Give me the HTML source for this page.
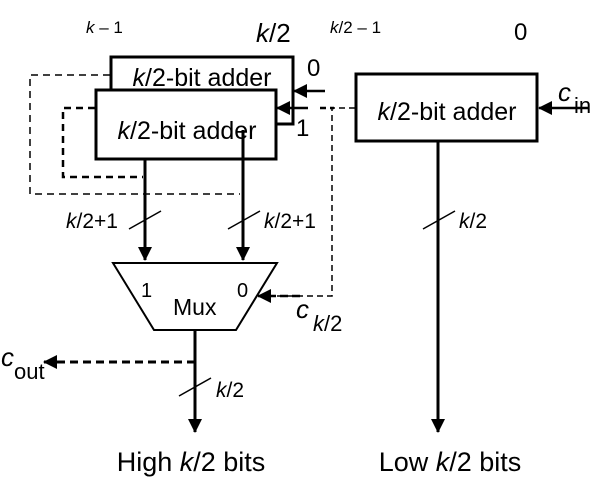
<!DOCTYPE html>
<html><head><meta charset="utf-8"><style>
html,body{margin:0;padding:0;background:#fff;}
svg{display:block;font-family:"Liberation Sans",Arial,sans-serif;}
</style></head><body>
<svg width="602" height="486" viewBox="0 0 602 486" xmlns="http://www.w3.org/2000/svg">
<defs>
<marker id="ab" markerWidth="14" markerHeight="14" refX="13" refY="7" orient="auto" markerUnits="userSpaceOnUse">
<path d="M0,0 L14,7 L0,14 z" fill="#000"/>
</marker>
</defs>
<g fill="none" stroke="#000">
<path d="M110,75 H30 V194 H240" stroke-width="1.5" stroke-dasharray="7,5"/>
<path d="M95,108 H63 V177 H143" stroke-width="2.5" stroke-dasharray="7,5"/>
<rect x="111" y="57" width="182" height="67" fill="#fff" stroke-width="3"/>
<rect x="96" y="90" width="180" height="69" fill="#fff" stroke-width="3"/>
<rect x="356" y="74" width="181" height="67" fill="#fff" stroke-width="3"/>
<line x1="325" y1="91" x2="294" y2="91" stroke-width="2.5" marker-end="url(#ab)"/>
<line x1="308" y1="108" x2="277" y2="108" stroke-width="2.5" marker-end="url(#ab)"/>
<line x1="589" y1="108" x2="539" y2="108" stroke-width="2.5" marker-end="url(#ab)"/>
<line x1="145" y1="159" x2="145" y2="260" stroke-width="3" marker-end="url(#ab)"/>
<line x1="243" y1="130" x2="243" y2="260" stroke-width="3" marker-end="url(#ab)"/>
<line x1="129" y1="229" x2="161" y2="211" stroke-width="1.5"/>
<line x1="228" y1="229" x2="260" y2="211" stroke-width="1.5"/>
<line x1="438" y1="141" x2="438" y2="432" stroke-width="3" marker-end="url(#ab)"/>
<line x1="423" y1="229" x2="455" y2="211" stroke-width="1.5"/>
<path d="M355,108 H332 V296 H262" stroke-width="1.5" stroke-dasharray="6,4"/>
<path d="M320,108 H334" stroke-width="2.5" stroke-dasharray="6,4"/>
<line x1="300" y1="296" x2="258" y2="296" stroke-width="2.5" stroke-dasharray="8,4" marker-end="url(#ab)"/>
<path d="M113,263 H277 L236,330 H154 Z" fill="#fff" stroke-width="2"/>
<line x1="195" y1="330" x2="195" y2="432" stroke-width="3" marker-end="url(#ab)"/>
<line x1="179" y1="396" x2="211" y2="378" stroke-width="1.5"/>
<line x1="195" y1="362" x2="44" y2="362" stroke-width="3" stroke-dasharray="8,5" marker-end="url(#ab)"/>
</g>
<g fill="#000">
<text x="86" y="33" font-size="17"><tspan font-style="italic">k</tspan> – 1</text>
<text x="256" y="42" font-size="26"><tspan font-style="italic">k</tspan>/2</text>
<text x="330" y="33" font-size="17"><tspan font-style="italic">k</tspan>/2 – 1</text>
<text x="514" y="40" font-size="24">0</text>
<text x="307" y="76" font-size="24">0</text>
<text x="296" y="136" font-size="24">1</text>
<text x="202" y="86" font-size="25" text-anchor="middle"><tspan font-style="italic">k</tspan>/2-bit adder</text>
<text x="187" y="139" font-size="25" text-anchor="middle"><tspan font-style="italic">k</tspan>/2-bit adder</text>
<text x="447" y="120" font-size="25" text-anchor="middle"><tspan font-style="italic">k</tspan>/2-bit adder</text>
<text x="558" y="101" font-size="26" font-style="italic">c</text>
<text x="574" y="113" font-size="22">in</text>
<text x="66" y="228" font-size="21"><tspan font-style="italic">k</tspan>/2+1</text>
<text x="264" y="228" font-size="21"><tspan font-style="italic">k</tspan>/2+1</text>
<text x="459" y="228" font-size="21"><tspan font-style="italic">k</tspan>/2</text>
<text x="141" y="297" font-size="20">1</text>
<text x="237" y="297" font-size="20">0</text>
<text x="173" y="315" font-size="23">Mux</text>
<text x="296" y="318" font-size="26" font-style="italic">c</text>
<text x="313" y="331" font-size="22"><tspan font-style="italic">k</tspan>/2</text>
<text x="1" y="366" font-size="26" font-style="italic">c</text>
<text x="14" y="379" font-size="22">out</text>
<text x="216" y="397" font-size="21"><tspan font-style="italic">k</tspan>/2</text>
<text x="191" y="471" font-size="27" text-anchor="middle">High <tspan font-style="italic">k</tspan>/2 bits</text>
<text x="450" y="471" font-size="27" text-anchor="middle">Low <tspan font-style="italic">k</tspan>/2 bits</text>
</g>
</svg>
</body></html>
